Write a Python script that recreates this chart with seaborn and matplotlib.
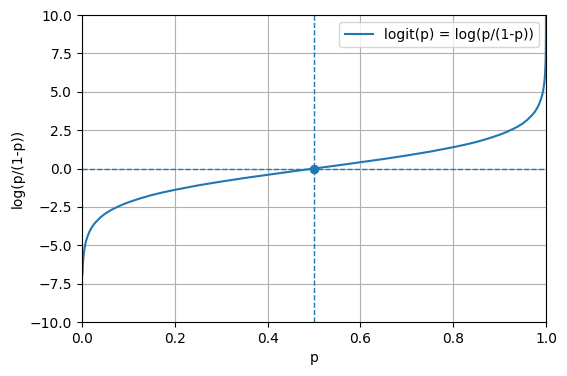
"""Kurva logit: log(p/(1-p)) terhadap p."""

import matplotlib

matplotlib.use("Agg")
import matplotlib.pyplot as plt
import pandas as pd
import seaborn as sns

# Nilai dibaca dari gambar referensi.
p_values = [0.001, 0.002, 0.003, 0.004, 0.006, 0.008, 0.01, 0.015, 0.02, 0.025,
            0.03, 0.04, 0.05, 0.06, 0.07, 0.085, 0.1, 0.125, 0.15, 0.175,
            0.2, 0.25, 0.3, 0.35, 0.4, 0.45, 0.5, 0.55, 0.6, 0.65, 0.7,
            0.75, 0.8, 0.825, 0.85, 0.875, 0.9, 0.915, 0.93, 0.94, 0.95,
            0.96, 0.97, 0.975, 0.98, 0.985, 0.99, 0.992, 0.994, 0.996,
            0.997, 0.998, 0.999, 0.9995, 0.9999, 0.99995, 1.0]
logit_values = [-6.9, -6.21, -5.8, -5.52, -5.11, -4.82, -4.6, -4.18, -3.89, -3.66,
                -3.48, -3.18, -2.94, -2.75, -2.59, -2.38, -2.2, -1.95, -1.73, -1.55,
                -1.39, -1.1, -0.85, -0.62, -0.41, -0.2, 0.0, 0.2, 0.41, 0.62, 0.85,
                1.1, 1.39, 1.55, 1.73, 1.95, 2.2, 2.38, 2.59, 2.75, 2.94,
                3.18, 3.48, 3.66, 3.89, 4.18, 4.6, 4.82, 5.11, 5.52,
                5.8, 6.21, 6.9, 7.6, 9.2, 9.9, 12.0]
center_p = [0.5]
center_logit = [0.0]

frame = pd.DataFrame({"p": p_values, "logit": logit_values})

fig, ax = plt.subplots(figsize=(5.67, 3.76), dpi=100)
fig.subplots_adjust(left=0.1446, right=0.963, top=0.960, bottom=0.1436)

sns.lineplot(data=frame, x="p", y="logit", ax=ax, color="C0",
             label="logit(p) = log(p/(1-p))", sort=False)
ax.axvline(center_p[0], color="C0", linestyle="--", linewidth=1)
ax.axhline(center_logit[0], color="C0", linestyle="--", linewidth=1)
sns.scatterplot(x=center_p, y=center_logit, ax=ax, color="C0", s=40,
                edgecolor="C0", zorder=3)

ax.set_xlim(0, 1)
ax.set_ylim(-10, 10)
ax.set_xlabel("p")
ax.set_ylabel("log(p/(1-p))")
ax.grid(True)
ax.legend(loc="upper right")

fig.savefig("out.png", dpi=100)
plt.close(fig)
